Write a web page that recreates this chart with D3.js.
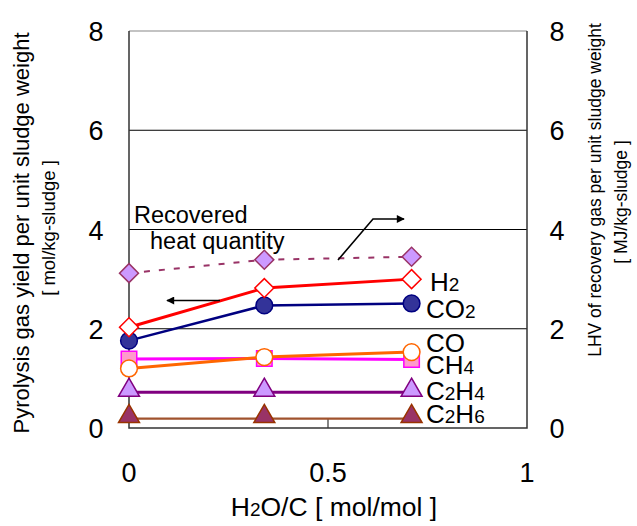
<!DOCTYPE html>
<html lang="en">
<head>
<meta charset="UTF-8">
<title>Pyrolysis gas yield vs H2O/C</title>
<script src="https://d3js.org/d3.v7.min.js"></script>
<style>
    body { margin: 0; background: #ffffff; font-family: 'Liberation Sans', Arial, sans-serif; }
    svg text { fill: #000; }
</style>
</head>
<body>
<svg id="chart" width="637" height="526"></svg>
<script>
// --- data ---
const xValues = [0, 0.34, 0.71];
const h2 = [2.03, 2.82, 3.0];
const co2 = [1.76, 2.47, 2.51];
const co = [1.2, 1.43, 1.53];
const ch4 = [1.39, 1.4, 1.38];
const c2h4 = [0.72, 0.72, 0.72];
const c2h6 = [0.19, 0.19, 0.19];
const heat = [3.12, 3.39, 3.45];   // right axis, MJ/kg-sludge
const yTicks = [0, 2, 4, 6, 8];
const xTicks = [0, 0.5, 1];

const svg = d3.select("#chart");
const plotLeft = 129, plotRight = 527, plotTop = 31, plotBottom = 428;

const x = d3.scaleLinear().domain([0, 1]).range([plotLeft, plotRight]);
const y = d3.scaleLinear().domain([0, 8]).range([plotBottom, plotTop]);
const y2 = d3.scaleLinear().domain([0, 8]).range([plotBottom, plotTop]);

// grid lines
svg.append("g").selectAll("line")
    .data([2, 4, 6]).enter().append("line")
    .attr("x1", plotLeft).attr("x2", plotRight)
    .attr("y1", d => y(d)).attr("y2", d => y(d))
    .attr("stroke", "#000").attr("stroke-width", 1);

// frame
svg.append("line").attr("x1", plotLeft).attr("x2", plotRight).attr("y1", plotTop).attr("y2", plotTop)
    .attr("stroke", "#888").attr("stroke-width", 1.2);
svg.append("path")
    .attr("d", `M${plotLeft},${plotTop}V${plotBottom}H${plotRight}V${plotTop}`)
    .attr("fill", "none").attr("stroke", "#333").attr("stroke-width", 1.5);

// inner x tick at 0.5
svg.append("line").attr("x1", x(0.5)).attr("x2", x(0.5))
    .attr("y1", plotBottom).attr("y2", plotBottom - 9)
    .attr("stroke", "#333").attr("stroke-width", 1.2);

// tick labels
const tickFont = 27;
svg.append("g").selectAll("text").data(yTicks).enter().append("text")
    .attr("x", 96).attr("y", d => y(d) + 10)
    .attr("text-anchor", "middle").attr("font-size", tickFont).text(d => d);
svg.append("g").selectAll("text").data(yTicks).enter().append("text")
    .attr("x", 557).attr("y", d => y2(d) + 10)
    .attr("text-anchor", "middle").attr("font-size", tickFont).text(d => d);
svg.append("g").selectAll("text").data(xTicks).enter().append("text")
    .attr("x", d => x(d)).attr("y", 482)
    .attr("text-anchor", "middle").attr("font-size", tickFont).text(d => d);

// axis titles
const xt = svg.append("text").attr("x", 334).attr("y", 516)
    .attr("text-anchor", "middle").attr("font-size", 26.5);
xt.append("tspan").text("H");
xt.append("tspan").attr("font-size", 19).text("2");
xt.append("tspan").text("O/C [ mol/mol ]");

svg.append("text").attr("transform", "translate(29,233) rotate(-90)")
    .attr("text-anchor", "middle").attr("font-size", 22)
    .text("Pyrolysis gas yield per unit sludge weight");
svg.append("text").attr("transform", "translate(55,228) rotate(-90)")
    .attr("text-anchor", "middle").attr("font-size", 18.5)
    .text("[ mol/kg-sludge ]");
svg.append("text").attr("transform", "translate(601,190) rotate(-90)")
    .attr("text-anchor", "middle").attr("font-size", 17.5)
    .text("LHV of recovery gas per unit sludge weight");
svg.append("text").attr("transform", "translate(627,202) rotate(-90)")
    .attr("text-anchor", "middle").attr("font-size", 17.5)
    .text("[ MJ/kg-sludge ]");

// series
const series = [
    { name: "C2H6", values: c2h6, scale: y, line: "#a0522d", width: 2.2, sym: d3.symbolTriangle, size: 190, fill: "#993366", stroke: "#993300" },
    { name: "C2H4", values: c2h4, scale: y, line: "#800080", width: 3, sym: d3.symbolTriangle, size: 190, fill: "#cc99ff", stroke: "#800080" },
    { name: "CH4", values: ch4, scale: y, line: "#ff00ff", width: 3, sym: d3.symbolSquare, size: 240, fill: "#ff99cc", stroke: "#ff00ff" },
    { name: "CO", values: co, scale: y, line: "#ff6600", width: 3, sym: d3.symbolCircle, size: 220, fill: "#ffffff", stroke: "#ff6600" },
    { name: "CO2", values: co2, scale: y, line: "#000080", width: 2.5, sym: d3.symbolCircle, size: 220, fill: "#333399", stroke: "#000080" },
    { name: "H2", values: h2, scale: y, line: "#ff0000", width: 3, sym: d3.symbolDiamond, size: 225, fill: "#ffffff", stroke: "#ff0000", sq: true },
    { name: "heat", values: heat, scale: y2, line: "#993366", width: 2, dash: "6,9", sym: d3.symbolDiamond, size: 225, fill: "#cc99ff", stroke: "#993366", sq: true }
];

series.forEach(s => {
    const line = d3.line().x((d, i) => x(xValues[i])).y(d => s.scale(d));
    svg.append("path").datum(s.values)
        .attr("d", line).attr("fill", "none")
        .attr("stroke", s.line).attr("stroke-width", s.width)
        .attr("stroke-dasharray", s.dash || null);
    // diamonds drawn as rotated squares, like the original
    const sym = s.sq ? d3.symbol().type(d3.symbolSquare).size(s.size * 0.8) : d3.symbol().type(s.sym).size(s.size);
    svg.append("g").selectAll("path").data(s.values).enter().append("path")
        .attr("d", sym)
        .attr("transform", (d, i) => `translate(${x(xValues[i])},${s.scale(d) - (s.sym === d3.symbolTriangle ? 2 : 0)})` + (s.sq ? " rotate(45)" : ""))
        .attr("fill", s.fill).attr("stroke", s.stroke).attr("stroke-width", 1.5);
});

// series labels
const labels = [
    { parts: [["H", 0], ["2", 1]], x: 430, y: 291 },
    { parts: [["CO", 0], ["2", 1]], x: 426, y: 318 },
    { parts: [["CO", 0]], x: 426, y: 352 },
    { parts: [["CH", 0], ["4", 1]], x: 426, y: 374 },
    { parts: [["C", 0], ["2", 1], ["H", 0], ["4", 1]], x: 426, y: 400 },
    { parts: [["C", 0], ["2", 1], ["H", 0], ["6", 1]], x: 426, y: 423 }
];
labels.forEach(l => {
    const t = svg.append("text").attr("x", l.x).attr("y", l.y).attr("font-size", 26);
    l.parts.forEach(p => t.append("tspan").attr("font-size", p[1] ? 19 : 26).text(p[0]));
});

svg.append("text").attr("x", 134).attr("y", 223).attr("font-size", 23.5).text("Recovered");
svg.append("text").attr("x", 150).attr("y", 249).attr("font-size", 23.5).text("heat quantity");

// arrows
const defs = svg.append("defs");
defs.append("marker").attr("id", "head").attr("viewBox", "0 0 10 10")
    .attr("refX", 9).attr("refY", 5).attr("markerWidth", 10).attr("markerHeight", 8)
    .attr("markerUnits", "userSpaceOnUse").attr("orient", "auto")
    .append("path").attr("d", "M0,0L10,5L0,10Z").attr("fill", "#000");

svg.append("line").attr("x1", 220).attr("y1", 300.5).attr("x2", 167).attr("y2", 300.5)
    .attr("stroke", "#000").attr("stroke-width", 1.6).attr("marker-end", "url(#head)");
svg.append("path").attr("d", "M338,260L373,219H404")
    .attr("fill", "none").attr("stroke", "#000").attr("stroke-width", 1.6)
    .attr("marker-end", "url(#head)");
</script>
</body>
</html>
